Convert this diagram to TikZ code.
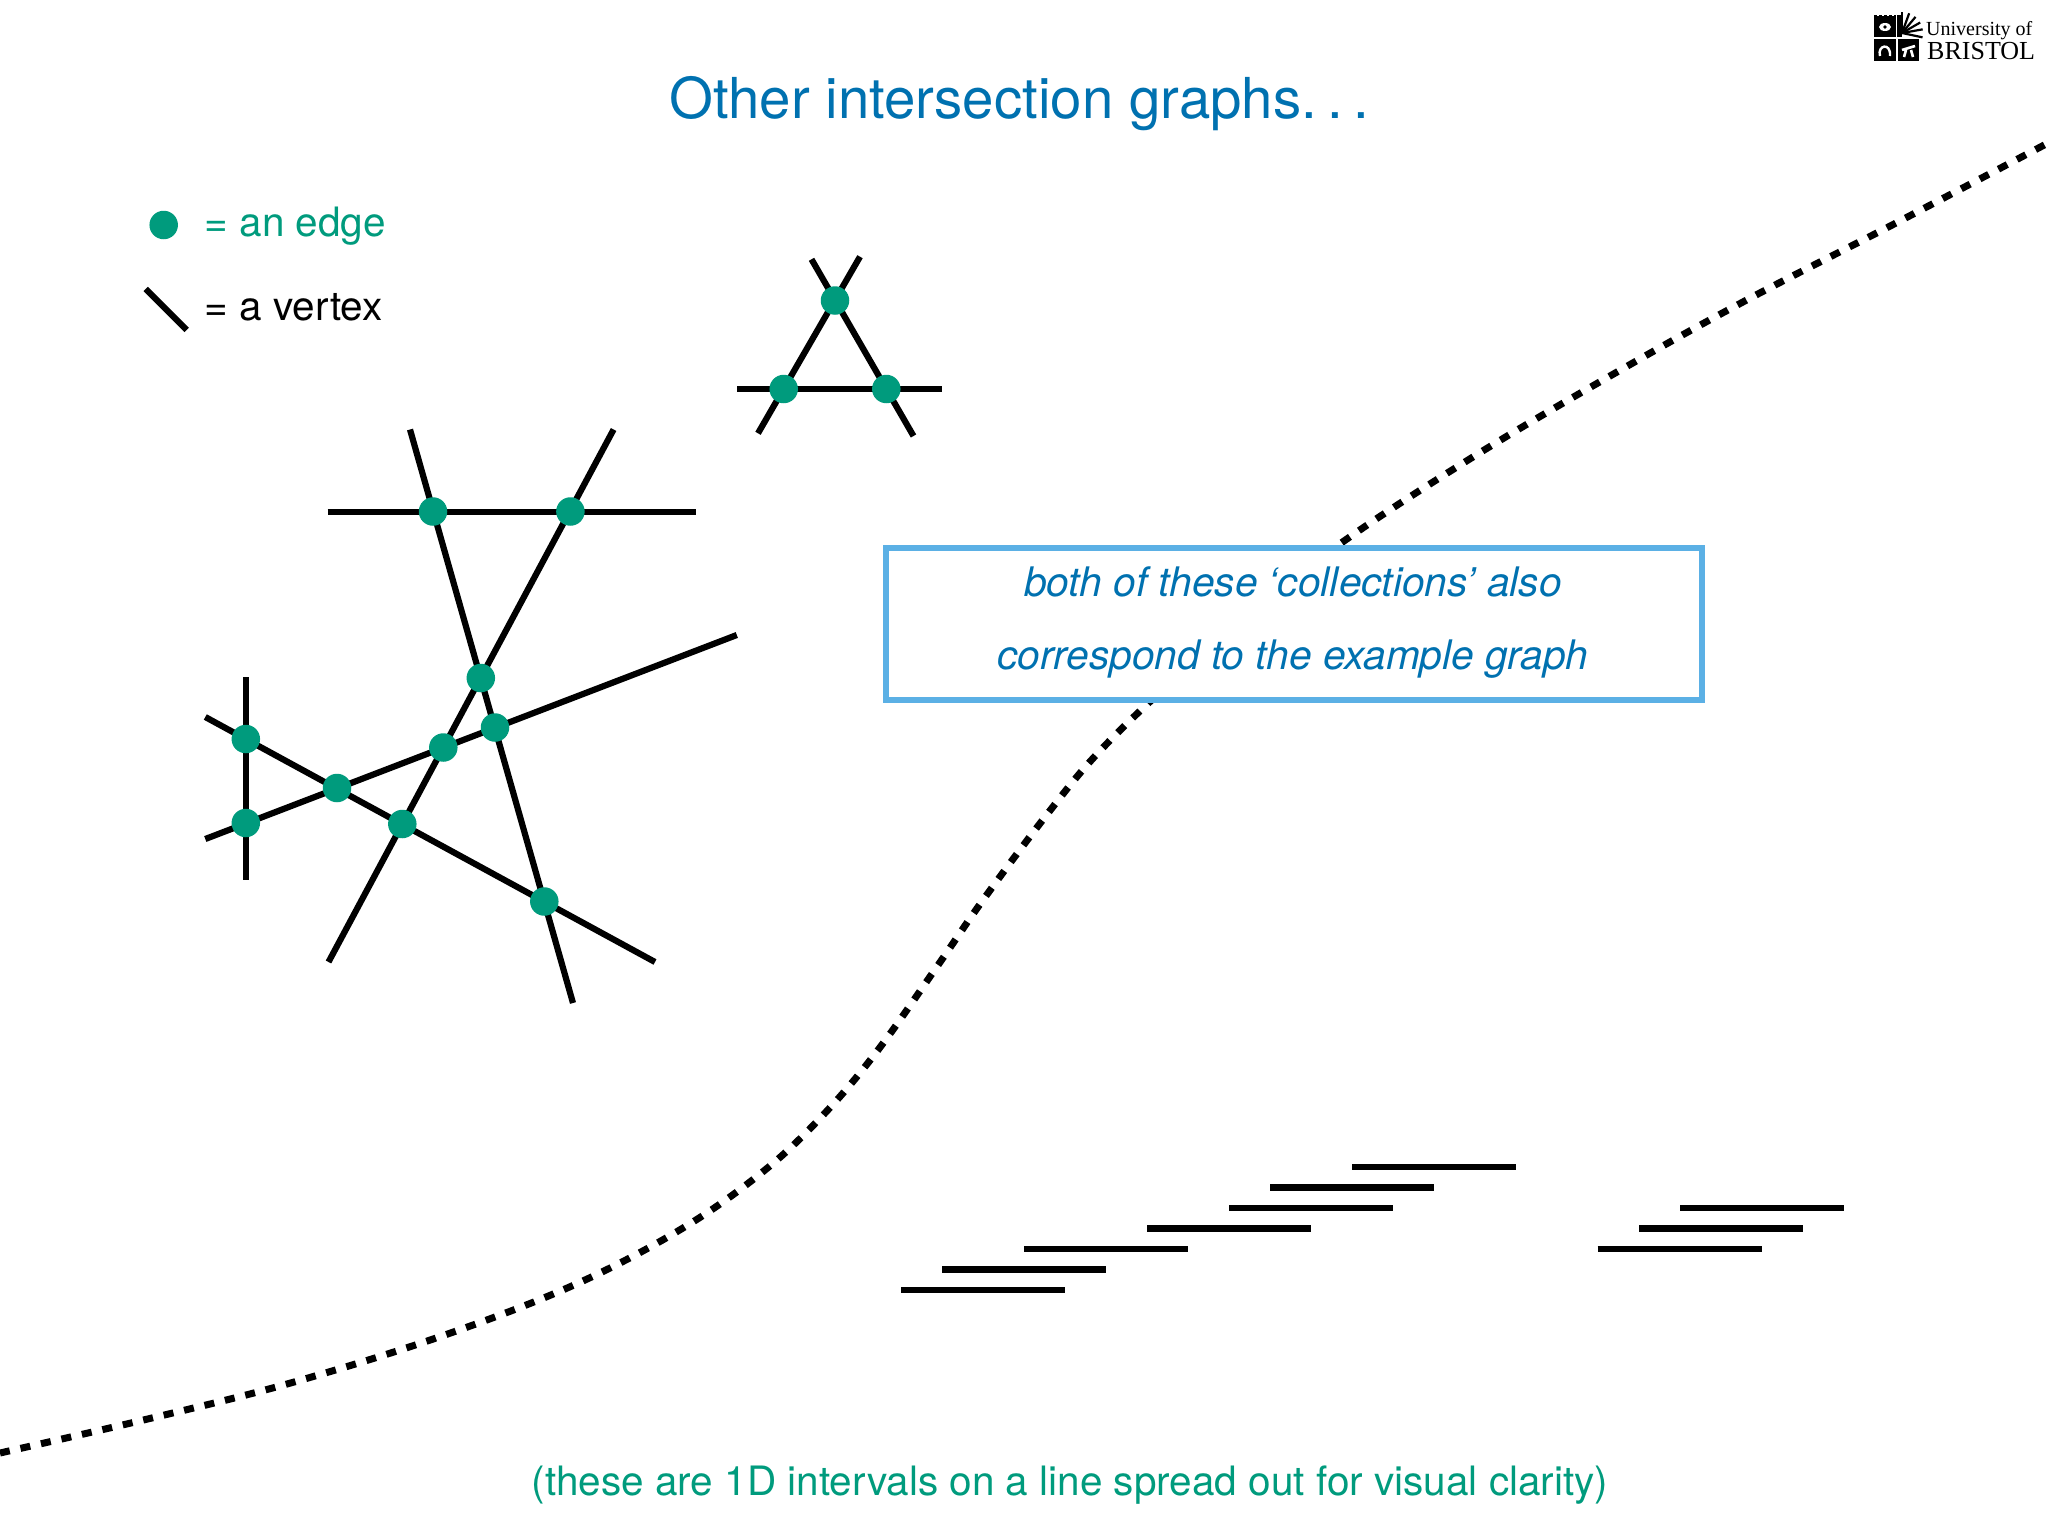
\documentclass[tikz,border=0pt]{standalone}
\usepackage{xcolor}
\usepackage{fontspec}
\usepackage{tikz}
\usetikzlibrary{positioning}
\setmainfont{TeX Gyre Heros}
\newfontfamily\crestfont{Liberation Serif}
\definecolor{slideblue}{RGB}{0,113,176}
\definecolor{slidegreen}{RGB}{0,155,125}
\definecolor{boxblue}{RGB}{91,176,229}
\tikzset{
  edgedot/.style={circle,fill=slidegreen,inner sep=0pt,minimum size=28.5pt},
  vertexline/.style={draw=black,line width=6.2pt},
  slidetext/.style={inner sep=0pt,anchor=base west,font=\fontsize{40.5}{48}\selectfont},
  panel/.style={fill=black}
}

\begin{document}
\begin{tikzpicture}[x=1pt,y=-1pt]
  \useasboundingbox (0,0) rectangle (2048,1536);

  % the slide title and the crest
  \node[inner sep=0pt,anchor=base west,text=slideblue,font=\fontsize{56.4}{68}\selectfont] (title) at (669,118.5) {Other intersection graphs.\kern10.5pt.\kern10.5pt.};
  \fill[panel] (1874,15) rectangle (1896,37);
  \fill[panel] (1874,39) rectangle (1896,61);
  \fill[panel] (1898,39) rectangle (1919,61);
  \fill[panel] (1897,15) rectangle (1902,37);
  % crenellations, and the figures in the panels
  \foreach \x in {1877,1882,1887,1892}
    \fill[white] (\x,14) rectangle ++(2,2);
  \fill[white] (1885,27) ellipse (6pt and 4pt);
  \fill[black] (1885,27) circle (1.8pt);
  \draw[white,line width=2.4pt] (1880,56) .. controls (1877,45) and (1891,42) .. (1890,56);
  \draw[white,line width=2.6pt] (1902,50) -- (1915,46) (1904,57) -- (1906,50) (1913,57) -- (1911,50);
  \foreach \a in {-12,10,30,50,70,90}
    \draw[black,line width=2.2pt] (1902,33) -- ++(\a:21pt);
  \node[inner sep=0pt,anchor=base west,font=\crestfont\fontsize{20}{24}\selectfont] (uni) at (1926,36) {University of};
  \node[inner sep=0pt,anchor=base west,font=\crestfont\fontsize{26}{30}\selectfont] (bristol) at (1927,60) {BRISTOL};

  % legend
  \node[edgedot] (legdot) at (163.7,225) {};
  \coordinate (lega) at (145.7,289);
  \coordinate (legb) at (186.7,330);
  \path[vertexline] (lega) edge[vertexline] (legb);
  \node[slidetext,text=slidegreen] (legedge) at (204.5,236) {= an edge};
  \node[slidetext] (legvertex) at (204.5,320) {= a vertex};

  % big collection of segments
  \coordinate (pa) at (327.7,512);   \coordinate (pb) at (696,512);
  \coordinate (qa) at (410,429.5);   \coordinate (qb) at (573,1003);
  \coordinate (ra) at (613.6,429.5); \coordinate (rb) at (328.5,962);
  \coordinate (sa) at (736.8,635);   \coordinate (sb) at (205.3,839);
  \coordinate (ta) at (205.3,717);   \coordinate (tb) at (655,962);
  \coordinate (ua) at (245.8,677);   \coordinate (ub) at (245.8,880);
  % small triangle
  \coordinate (va) at (737.3,389);   \coordinate (vb) at (942,389);
  \coordinate (wa) at (811.5,259.3); \coordinate (wb) at (913.5,436);
  \coordinate (xa) at (860,256.7);   \coordinate (xb) at (758,433.3);

  \begin{scope}[every edge/.style={vertexline}]
    \path (pa) edge (pb);
    \path (qa) edge (qb);
    \path (ra) edge (rb);
    \path (sa) edge (sb);
    \path (ta) edge (tb);
    \path (ua) edge (ub);
    \path (va) edge (vb);
    \path (wa) edge (wb);
    \path (xa) edge (xb);
  \end{scope}

  \begin{scope}[every node/.style={edgedot}]
    \node (e1) at (433,511.5) {};
    \node (e2) at (570.4,511.5) {};
    \node (e3) at (480.8,678) {};
    \node (e4) at (495,727.5) {};
    \node (e5) at (443.3,747.5) {};
    \node (e6) at (337,788) {};
    \node (e7) at (245.8,739) {};
    \node (e8) at (245.8,823) {};
    \node (e9) at (402.3,824) {};
    \node (e10) at (544.3,901.5) {};
    \node (f1) at (835,300.5) {};
    \node (f2) at (783.7,389) {};
    \node (f3) at (886.3,389) {};
  \end{scope}

  % dashed curve, the box sits on top of it
  \draw[black,line width=7pt,dash pattern=on 10pt off 11pt]
    plot[smooth,tension=0.6] coordinates {(0,1453) (143.5,1420) (287,1384) (439,1337) (574,1285) (683,1228) (765,1170) (825,1113) (878,1050) (936.7,967) (983,900) (1045,817) (1097,754) (1167,686) (1254,612) (1344,541) (1481,452) (1624,368) (1748.5,299) (1896,223) (2048,143)};

  \node[draw=boxblue,fill=white,line width=6pt,inner sep=0pt,minimum width=816pt,minimum height=152pt] (note) at (1294,624) {};
  \node[inner sep=0pt,anchor=base,text=slideblue,font=\itshape\fontsize{40.7}{48}\selectfont] (notea) at (1293,596) {both of these ‘collections’ also};
  \node[inner sep=0pt,anchor=base,text=slideblue,font=\itshape\fontsize{40.7}{48}\selectfont] (noteb) at (1293,669.8) {correspond to the example graph};

  % the intervals
  \foreach \x/\y in {901/1290,942/1269.5,1024/1249,1147/1228.7,1229/1208,1270/1187.7,1352/1167,1597.5/1249,1639/1228.7,1680/1208}
    \draw[black,line width=6.5pt] (\x,\y) -- ++(164,0);

  \node[inner sep=0pt,anchor=base,text=slidegreen,font=\fontsize{40.5}{48}\selectfont] (foot) at (1070,1495) {(these are 1D intervals on a line spread out for visual clarity)};
\end{tikzpicture}
\end{document}
